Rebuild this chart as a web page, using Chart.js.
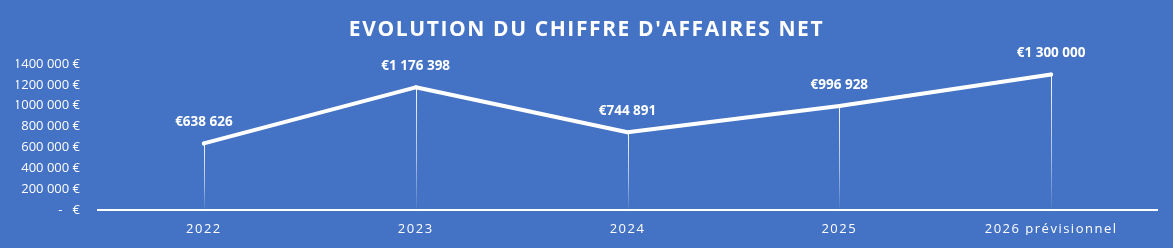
<!DOCTYPE html>
<html>
<head>
<meta charset="utf-8">
<script src="https://cdn.jsdelivr.net/npm/chart.js@4/dist/chart.umd.min.js"></script>
<style>
  html, body { margin: 0; padding: 0; background: #4472C4; }
  #wrap { width: 1173px; height: 248px; }
</style>
</head>
<body>
<div id="wrap"><canvas id="caChart"></canvas></div>
<script>
var years = ["2022", "2023", "2024", "2025", "2026 prévisionnel"];
var chiffreAffaires = [638626, 1176398, 744891, 996928, 1300000];
var yTicks = [0, 200000, 400000, 600000, 800000, 1000000, 1200000, 1400000];

function groupSpaces(v) {
    return String(Math.round(v)).replace(/\B(?=(\d{3})+(?!\d))/g, " ");
}

function euroTick(v) {
    if (v === 0) return "-   €";
    var k = Math.floor(v / 1000);
    return k + " " + String(v % 1000).padStart(3, "0") + " €";
}

// letter spacing on the title and the category labels
var spacingPlugin = {
    id: 'spacing',
    beforeDraw: function (chart) {
        var items = [[chart.titleBlock, 'draw', '1.6px'], [chart.scales.x, 'drawLabels', '1.5px']];
        items.forEach(function (it) {
            var box = it[0];
            if (!box || box._spaced) return;
            var orig = box[it[1]];
            box[it[1]] = function () {
                var c = chart.ctx;
                c.save();
                c.letterSpacing = it[2];
                orig.apply(box, arguments);
                c.restore();
            };
            box._spaced = true;
        });
    }
};

// thin fading drop lines from each point to the axis
var dropLines = {
    id: 'dropLines',
    beforeDatasetsDraw: function (chart) {
        var ctx = chart.ctx;
        var meta = chart.getDatasetMeta(0);
        var base = chart.scales.y.getPixelForValue(0);
        ctx.save();
        meta.data.forEach(function (pt) {
            var g = ctx.createLinearGradient(0, pt.y, 0, base);
            g.addColorStop(0, "rgba(255,255,255,0.95)");
            g.addColorStop(0.6, "rgba(255,255,255,0.55)");
            g.addColorStop(1, "rgba(255,255,255,0.05)");
            ctx.strokeStyle = g;
            ctx.lineWidth = 1;
            ctx.beginPath();
            ctx.moveTo(Math.round(pt.x) + 0.5, pt.y);
            ctx.lineTo(Math.round(pt.x) + 0.5, base);
            ctx.stroke();
        });
        ctx.restore();
    }
};

// value labels above points
var valueLabels = {
    id: 'valueLabels',
    afterDatasetsDraw: function (chart) {
        var ctx = chart.ctx;
        var meta = chart.getDatasetMeta(0);
        var data = chart.data.datasets[0].data;
        ctx.save();
        ctx.fillStyle = "#ffffff";
        ctx.font = "bold 13.5px 'Open Sans'";
        ctx.textAlign = "center";
        ctx.textBaseline = "middle";
        meta.data.forEach(function (pt, i) {
            ctx.fillText("€" + groupSpaces(data[i]), pt.x, pt.y - 21);
        });
        ctx.restore();
    }
};

var ctx = document.getElementById("caChart");
var myChart = new Chart(ctx, {
    type: 'line',
    data: {
        labels: years,
        datasets: [{
            label: "Chiffre d'affaires net",
            data: chiffreAffaires,
            borderColor: "#ffffff",
            backgroundColor: "#ffffff",
            borderWidth: 4,
            borderCapStyle: 'round',
            borderJoinStyle: 'round',
            lineTension: 0,
            pointRadius: 2,
            pointBorderWidth: 0,
            pointBackgroundColor: "#ffffff",
            fill: false
        }]
    },
    options: {
        responsive: true,
        maintainAspectRatio: false,
        animation: false,
        layout: { padding: { top: 4, right: 16, bottom: 13, left: 16 } },
        plugins: {
            legend: { display: false },
            tooltip: { enabled: false },
            title: {
                display: true,
                text: "EVOLUTION DU CHIFFRE D'AFFAIRES NET",
                color: "#ffffff",
                font: { family: "'Open Sans'", size: 21, weight: 'bold', lineHeight: 1.2 },
                padding: { top: 13, bottom: 21.8 }
            }
        },
        scales: {
            x: {
                offset: true,
                grid: { display: false, drawTicks: false },
                border: { display: true, color: "#ffffff", width: 2 },
                afterFit: function (scale) { scale.height = 25; },
                ticks: {
                    color: "#ffffff",
                    padding: 11,
                    maxRotation: 0,
                    font: { family: "'Open Sans'", size: 13, lineHeight: 1.2 }
                }
            },
            y: {
                min: 0,
                max: 1400000,
                afterBuildTicks: function (scale) {
                    scale.ticks = yTicks.map(function (v) { return { value: v }; });
                },
                afterFit: function (scale) { scale.width = 82; },
                grid: { display: false, drawTicks: false },
                border: { display: false },
                ticks: {
                    color: "#ffffff",
                    padding: 18,
                    font: { family: "'Open Sans'", size: 13 },
                    callback: function (v) { return euroTick(v); }
                }
            }
        }
    },
    plugins: [spacingPlugin, dropLines, valueLabels]
});
</script>
</body>
</html>
